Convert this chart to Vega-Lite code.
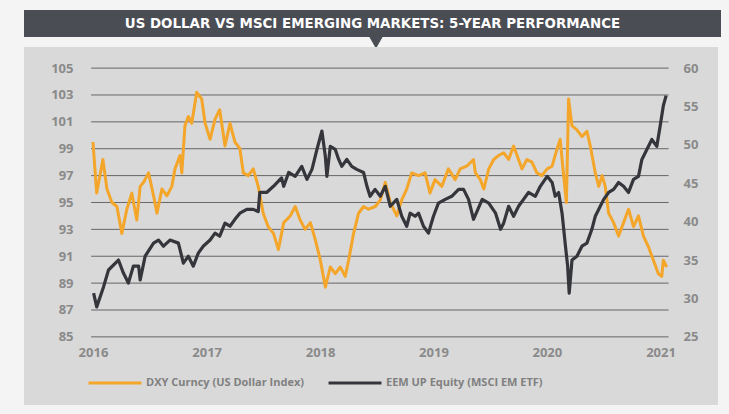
{
  "$schema": "https://vega.github.io/schema/vega-lite/v6.json",
  "background": "#f4f4f4",
  "padding": {"left": 24, "top": 10, "right": 9, "bottom": 9},
  "spacing": 10,
  "bounds": "flush",
  "config": {
    "view": {"stroke": null},
    "axis": {"labelFont": "Open Sans", "labelFontWeight": "bold", "labelColor": "#8a8a8a", "labelFontSize": 13, "domain": false, "ticks": false, "grid": false, "title": null, "labelFlush": false, "labelOverlap": false}
  },
  "datasets": {
    "dxy": [
      {"date": "2016-01-01", "v": 99.5}, {"date": "2016-01-13", "v": 95.7}, {"date": "2016-02-02", "v": 98.2}, {"date": "2016-02-15", "v": 96.0},
      {"date": "2016-03-02", "v": 95.0}, {"date": "2016-03-18", "v": 94.7}, {"date": "2016-04-03", "v": 92.7}, {"date": "2016-04-19", "v": 94.5},
      {"date": "2016-05-05", "v": 95.7}, {"date": "2016-05-21", "v": 93.7}, {"date": "2016-06-01", "v": 96.2}, {"date": "2016-06-12", "v": 96.5},
      {"date": "2016-06-28", "v": 97.2}, {"date": "2016-07-14", "v": 95.5}, {"date": "2016-07-25", "v": 94.2}, {"date": "2016-08-10", "v": 96.0},
      {"date": "2016-08-26", "v": 95.5}, {"date": "2016-09-11", "v": 96.2}, {"date": "2016-09-21", "v": 97.5}, {"date": "2016-10-07", "v": 98.5},
      {"date": "2016-10-13", "v": 97.2}, {"date": "2016-10-23", "v": 100.7}, {"date": "2016-11-03", "v": 101.4}, {"date": "2016-11-14", "v": 100.9},
      {"date": "2016-11-30", "v": 103.2}, {"date": "2016-12-16", "v": 102.7}, {"date": "2016-12-27", "v": 100.9}, {"date": "2017-01-12", "v": 99.7},
      {"date": "2017-01-28", "v": 101.2}, {"date": "2017-02-12", "v": 101.9}, {"date": "2017-03-01", "v": 99.2}, {"date": "2017-03-17", "v": 100.9},
      {"date": "2017-04-02", "v": 99.5}, {"date": "2017-04-18", "v": 99.0}, {"date": "2017-04-29", "v": 97.2}, {"date": "2017-05-15", "v": 97.0},
      {"date": "2017-05-31", "v": 97.5}, {"date": "2017-06-16", "v": 96.2}, {"date": "2017-07-02", "v": 94.2}, {"date": "2017-07-18", "v": 93.2},
      {"date": "2017-08-04", "v": 92.7}, {"date": "2017-08-20", "v": 91.5}, {"date": "2017-09-06", "v": 93.5}, {"date": "2017-09-27", "v": 94.0},
      {"date": "2017-10-13", "v": 94.7}, {"date": "2017-10-29", "v": 93.7}, {"date": "2017-11-14", "v": 93.0}, {"date": "2017-12-01", "v": 93.5},
      {"date": "2017-12-17", "v": 92.2}, {"date": "2018-01-02", "v": 90.7}, {"date": "2018-01-18", "v": 88.7}, {"date": "2018-02-03", "v": 90.2},
      {"date": "2018-02-19", "v": 89.7}, {"date": "2018-03-07", "v": 90.2}, {"date": "2018-03-23", "v": 89.5}, {"date": "2018-04-03", "v": 90.7},
      {"date": "2018-04-19", "v": 92.7}, {"date": "2018-05-05", "v": 94.2}, {"date": "2018-05-21", "v": 94.7}, {"date": "2018-06-06", "v": 94.5},
      {"date": "2018-06-28", "v": 94.7}, {"date": "2018-07-14", "v": 95.2}, {"date": "2018-07-30", "v": 96.5}, {"date": "2018-08-15", "v": 95.0},
      {"date": "2018-09-05", "v": 94.0}, {"date": "2018-09-21", "v": 95.2}, {"date": "2018-10-07", "v": 96.0}, {"date": "2018-10-23", "v": 97.2},
      {"date": "2018-11-14", "v": 97.0}, {"date": "2018-12-05", "v": 97.2}, {"date": "2018-12-21", "v": 95.7}, {"date": "2019-01-06", "v": 96.7},
      {"date": "2019-01-28", "v": 96.2}, {"date": "2019-02-18", "v": 97.5}, {"date": "2019-03-12", "v": 96.7}, {"date": "2019-03-28", "v": 97.5},
      {"date": "2019-04-18", "v": 97.7}, {"date": "2019-05-10", "v": 98.2}, {"date": "2019-05-16", "v": 97.2}, {"date": "2019-06-01", "v": 96.7},
      {"date": "2019-06-12", "v": 96.0}, {"date": "2019-06-28", "v": 97.5}, {"date": "2019-07-14", "v": 98.2}, {"date": "2019-07-30", "v": 98.5},
      {"date": "2019-08-15", "v": 98.7}, {"date": "2019-08-31", "v": 98.2}, {"date": "2019-09-16", "v": 99.2}, {"date": "2019-10-02", "v": 98.2},
      {"date": "2019-10-13", "v": 97.5}, {"date": "2019-10-29", "v": 98.2}, {"date": "2019-11-14", "v": 98.0}, {"date": "2019-11-30", "v": 97.2},
      {"date": "2019-12-16", "v": 97.0}, {"date": "2020-01-02", "v": 97.5}, {"date": "2020-01-18", "v": 97.7}, {"date": "2020-02-03", "v": 99.0},
      {"date": "2020-02-13", "v": 99.7}, {"date": "2020-02-22", "v": 97.5}, {"date": "2020-03-04", "v": 95.0}, {"date": "2020-03-11", "v": 102.7},
      {"date": "2020-03-22", "v": 100.7}, {"date": "2020-04-07", "v": 100.4}, {"date": "2020-04-23", "v": 99.9}, {"date": "2020-05-09", "v": 100.3},
      {"date": "2020-05-20", "v": 99.2}, {"date": "2020-06-05", "v": 97.2}, {"date": "2020-06-16", "v": 96.2}, {"date": "2020-06-27", "v": 97.0},
      {"date": "2020-07-07", "v": 96.2}, {"date": "2020-07-18", "v": 94.2}, {"date": "2020-08-03", "v": 93.5}, {"date": "2020-08-19", "v": 92.5},
      {"date": "2020-09-04", "v": 93.5}, {"date": "2020-09-20", "v": 94.5}, {"date": "2020-10-06", "v": 93.2}, {"date": "2020-10-22", "v": 94.0},
      {"date": "2020-11-07", "v": 92.5}, {"date": "2020-11-23", "v": 91.7}, {"date": "2020-12-09", "v": 90.7}, {"date": "2020-12-25", "v": 89.7},
      {"date": "2021-01-05", "v": 89.5}, {"date": "2021-01-10", "v": 90.7}, {"date": "2021-01-21", "v": 90.2}
    ],
    "eem": [
      {"date": "2016-01-03", "v": 30.7}, {"date": "2016-01-13", "v": 28.9}, {"date": "2016-02-04", "v": 31.5}, {"date": "2016-02-20", "v": 33.7},
      {"date": "2016-03-23", "v": 35.0}, {"date": "2016-04-08", "v": 33.3}, {"date": "2016-04-24", "v": 32.0}, {"date": "2016-05-10", "v": 34.2},
      {"date": "2016-05-27", "v": 34.2}, {"date": "2016-06-01", "v": 32.4}, {"date": "2016-06-17", "v": 35.5}, {"date": "2016-07-14", "v": 37.2},
      {"date": "2016-07-30", "v": 37.6}, {"date": "2016-08-15", "v": 36.8}, {"date": "2016-09-05", "v": 37.6}, {"date": "2016-10-02", "v": 37.2},
      {"date": "2016-10-18", "v": 34.6}, {"date": "2016-11-03", "v": 35.5}, {"date": "2016-11-19", "v": 34.2}, {"date": "2016-12-05", "v": 35.9},
      {"date": "2016-12-21", "v": 36.8}, {"date": "2017-01-12", "v": 37.6}, {"date": "2017-01-28", "v": 38.5}, {"date": "2017-02-12", "v": 38.1},
      {"date": "2017-03-01", "v": 39.8}, {"date": "2017-03-17", "v": 39.4}, {"date": "2017-04-02", "v": 40.3}, {"date": "2017-04-18", "v": 41.1},
      {"date": "2017-05-10", "v": 41.6}, {"date": "2017-05-31", "v": 41.6}, {"date": "2017-06-16", "v": 41.3}, {"date": "2017-06-21", "v": 43.8},
      {"date": "2017-07-13", "v": 43.8}, {"date": "2017-08-04", "v": 44.6}, {"date": "2017-08-30", "v": 45.7}, {"date": "2017-09-06", "v": 44.6},
      {"date": "2017-09-22", "v": 46.4}, {"date": "2017-10-13", "v": 45.9}, {"date": "2017-11-03", "v": 47.2}, {"date": "2017-11-20", "v": 45.5},
      {"date": "2017-12-06", "v": 46.8}, {"date": "2017-12-22", "v": 49.4}, {"date": "2018-01-07", "v": 51.8}, {"date": "2018-01-18", "v": 48.5},
      {"date": "2018-01-23", "v": 45.9}, {"date": "2018-02-03", "v": 49.8}, {"date": "2018-02-19", "v": 49.4}, {"date": "2018-03-02", "v": 48.1},
      {"date": "2018-03-12", "v": 47.2}, {"date": "2018-03-28", "v": 48.1}, {"date": "2018-04-13", "v": 47.2}, {"date": "2018-04-29", "v": 46.8},
      {"date": "2018-05-21", "v": 46.4}, {"date": "2018-06-01", "v": 44.6}, {"date": "2018-06-11", "v": 43.3}, {"date": "2018-06-27", "v": 44.2},
      {"date": "2018-07-14", "v": 43.3}, {"date": "2018-07-30", "v": 44.6}, {"date": "2018-08-15", "v": 42.0}, {"date": "2018-09-05", "v": 42.9},
      {"date": "2018-09-21", "v": 40.7}, {"date": "2018-10-07", "v": 39.4}, {"date": "2018-10-18", "v": 41.1}, {"date": "2018-11-03", "v": 40.7},
      {"date": "2018-11-14", "v": 41.1}, {"date": "2018-11-30", "v": 39.4}, {"date": "2018-12-16", "v": 38.5}, {"date": "2019-01-01", "v": 40.7},
      {"date": "2019-01-17", "v": 42.4}, {"date": "2019-02-08", "v": 42.9}, {"date": "2019-03-01", "v": 43.3}, {"date": "2019-03-23", "v": 44.2},
      {"date": "2019-04-08", "v": 44.2}, {"date": "2019-04-24", "v": 42.9}, {"date": "2019-05-10", "v": 40.3}, {"date": "2019-06-07", "v": 42.9},
      {"date": "2019-06-28", "v": 42.4}, {"date": "2019-07-20", "v": 41.1}, {"date": "2019-08-05", "v": 39.0}, {"date": "2019-08-15", "v": 39.8},
      {"date": "2019-08-31", "v": 42.0}, {"date": "2019-09-16", "v": 40.7}, {"date": "2019-10-02", "v": 42.0}, {"date": "2019-10-18", "v": 42.9},
      {"date": "2019-11-03", "v": 43.8}, {"date": "2019-11-25", "v": 43.3}, {"date": "2019-12-11", "v": 44.6}, {"date": "2020-01-02", "v": 45.9},
      {"date": "2020-01-18", "v": 45.1}, {"date": "2020-01-28", "v": 43.3}, {"date": "2020-02-08", "v": 43.8}, {"date": "2020-02-19", "v": 41.1},
      {"date": "2020-03-01", "v": 36.8}, {"date": "2020-03-08", "v": 34.2}, {"date": "2020-03-13", "v": 30.7}, {"date": "2020-03-22", "v": 35.0},
      {"date": "2020-04-07", "v": 35.5}, {"date": "2020-04-23", "v": 36.8}, {"date": "2020-05-09", "v": 37.2}, {"date": "2020-05-25", "v": 39.0},
      {"date": "2020-06-05", "v": 40.7}, {"date": "2020-06-21", "v": 42.0}, {"date": "2020-07-02", "v": 42.9}, {"date": "2020-07-18", "v": 43.8},
      {"date": "2020-08-03", "v": 44.2}, {"date": "2020-08-19", "v": 45.1}, {"date": "2020-09-04", "v": 44.6}, {"date": "2020-09-20", "v": 43.8},
      {"date": "2020-10-06", "v": 45.5}, {"date": "2020-10-22", "v": 45.9}, {"date": "2020-11-02", "v": 48.1}, {"date": "2020-11-18", "v": 49.4},
      {"date": "2020-12-04", "v": 50.7}, {"date": "2020-12-20", "v": 49.8}, {"date": "2020-12-31", "v": 52.5}, {"date": "2021-01-10", "v": 55.1},
      {"date": "2021-01-19", "v": 56.4}
    ],
    "grid": [{"g": 85}, {"g": 87}, {"g": 89}, {"g": 91}, {"g": 93}, {"g": 95}, {"g": 97}, {"g": 99}, {"g": 101}, {"g": 103}, {"g": 105}],
    "title": [{"t": "US DOLLAR VS MSCI EMERGING MARKETS: 5-YEAR PERFORMANCE"}]
  },
  "vconcat": [
    {
      "width": 697,
      "height": 27,
      "view": {"fill": "#4b4d55", "stroke": null},
      "layer": [
        {
          "data": {"name": "title"},
          "mark": {"type": "text", "color": "#ffffff", "font": "DejaVu Sans", "fontSize": 13.4, "fontWeight": "bold", "align": "center", "baseline": "middle"},
          "encoding": {
            "x": {"datum": 0.5, "type": "quantitative", "scale": {"domain": [0, 1], "nice": false, "zero": false}, "axis": null},
            "y": {"datum": 0.5, "type": "quantitative", "scale": {"domain": [0, 1], "nice": false, "zero": false}, "axis": null},
            "text": {"field": "t"}
          }
        },
        {
          "data": {"name": "title"},
          "mark": {"type": "point", "shape": "triangle-down", "filled": true, "color": "#4b4d55", "opacity": 1, "size": 200},
          "encoding": {
            "x": {"datum": 0.505, "type": "quantitative"},
            "y": {"datum": -0.2, "type": "quantitative"}
          }
        }
      ]
    },
    {
      "width": 694,
      "height": 358,
      "view": {"fill": "#d9d9d9", "stroke": null},
      "layer": [
        {
          "layer": [
            {
              "data": {"name": "grid"},
              "mark": {"type": "rule", "color": "#666666", "strokeWidth": 1},
              "encoding": {
                "x": {"datum": {"year": 2015, "month": 12, "date": 26, "utc": true}, "type": "temporal",
                      "scale": {"type": "utc", "domain": [{"year": 2015, "month": 5, "date": 24, "utc": true}, {"year": 2021, "month": 7, "date": 5, "utc": true}]},
                      "axis": {"orient": "bottom", "offset": -68, "labelPadding": 9, "format": "%Y", "labelOverlap": false, "tickCount": 20,
                               "values": [{"year": 2016, "month": 1, "date": 1, "utc": true}, {"year": 2017, "month": 1, "date": 1, "utc": true}, {"year": 2018, "month": 1, "date": 1, "utc": true}, {"year": 2019, "month": 1, "date": 1, "utc": true}, {"year": 2020, "month": 1, "date": 1, "utc": true}, {"year": 2021, "month": 1, "date": 1, "utc": true}]}},
                "x2": {"datum": {"year": 2021, "month": 1, "date": 27, "utc": true}},
                "y": {"field": "g", "type": "quantitative",
                      "scale": {"domain": [79.93, 106.57], "nice": false, "zero": false},
                      "axis": {"orient": "left", "offset": -66, "labelPadding": 17, "labelOverlap": false, "tickCount": 30, "values": [85, 87, 89, 91, 93, 95, 97, 99, 101, 103, 105]}}
              }
            },
            {
              "data": {"name": "dxy"},
              "mark": {"type": "line", "strokeWidth": 3, "strokeJoin": "round"},
              "encoding": {
                "x": {"field": "date", "type": "temporal"},
                "y": {"field": "v", "type": "quantitative"},
                "color": {"datum": "DXY Curncy (US Dollar Index)", "type": "nominal",
                          "scale": {"domain": ["DXY Curncy (US Dollar Index)", "EEM UP Equity (MSCI EM ETF)"], "range": ["#f4a62a", "#35363b"]},
                          "legend": {"orient": "none", "legendX": 63, "legendY": 345, "direction": "horizontal", "title": null,
                                     "symbolType": "stroke", "symbolSize": 2800, "symbolStrokeWidth": 3, "labelFont": "Open Sans",
                                     "labelFontWeight": "bold", "labelFontSize": 11, "labelColor": "#808080", "labelOffset": 3, "labelLimit": 0, "columnPadding": 18, "padding": 0}}
              }
            }
          ]
        },
        {
          "data": {"name": "eem"},
          "mark": {"type": "line", "strokeWidth": 3.2, "strokeJoin": "round"},
          "encoding": {
            "x": {"field": "date", "type": "temporal"},
            "y": {"field": "v", "type": "quantitative",
                  "scale": {"domain": [16.12, 62.74], "nice": false, "zero": false},
                  "axis": {"orient": "right", "offset": -52, "labelPadding": 17, "labelOverlap": false, "tickCount": 20, "values": [25, 30, 35, 40, 45, 50, 55, 60]}},
            "color": {"datum": "EEM UP Equity (MSCI EM ETF)", "type": "nominal"}
          }
        }
      ],
      "resolve": {"scale": {"y": "independent"}}
    }
  ]
}
